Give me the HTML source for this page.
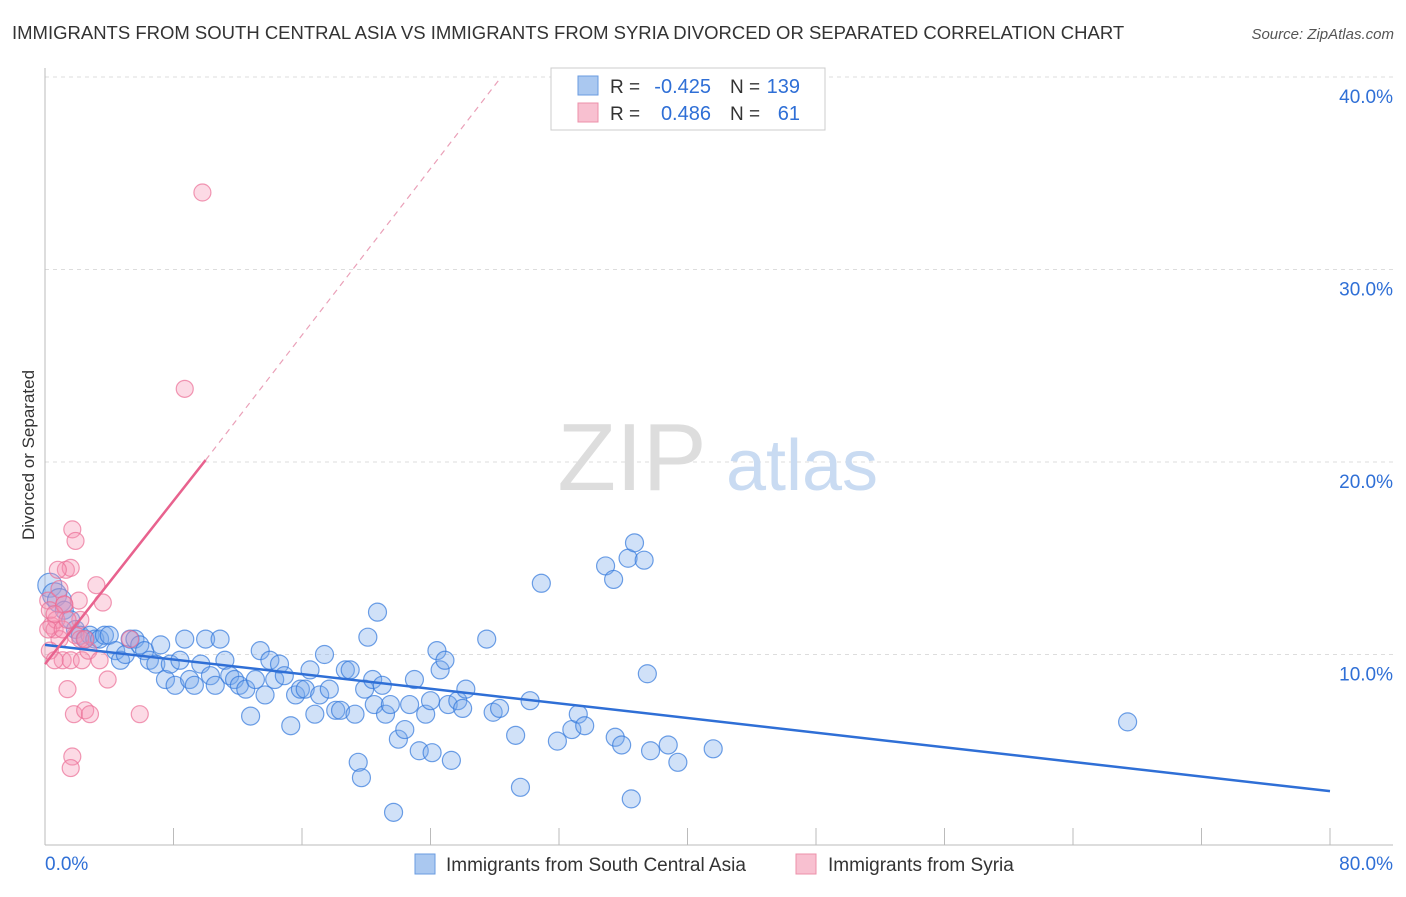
<!DOCTYPE html>
<html><head><meta charset="utf-8"><style>
body{margin:0;background:#fff;font-family:"Liberation Sans",sans-serif;}
svg text{font-family:"Liberation Sans",sans-serif;}
</style></head><body>
<svg id="chart" width="1406" height="892" viewBox="0 0 1406 892">
<text x="12" y="39" font-size="18.5" fill="#333">IMMIGRANTS FROM SOUTH CENTRAL ASIA VS IMMIGRANTS FROM SYRIA DIVORCED OR SEPARATED CORRELATION CHART</text>
<text x="1394" y="39" font-size="15" fill="#555" font-style="italic" text-anchor="end">Source: ZipAtlas.com</text>
<text x="34" y="455" font-size="17" fill="#333" text-anchor="middle" transform="rotate(-90 34 455)">Divorced or Separated</text>
<g id="grid"></g>
<g><text x="632" y="490" font-size="96" fill="#ddd" font-family="Liberation Serif" text-anchor="middle">ZIP</text><text x="802" y="490" font-size="72" fill="#c9dbf2" text-anchor="middle">atlas</text></g>
<g id="marks"></g>
<g id="legend">
<rect x="551" y="68" width="274" height="62" fill="#fff" stroke="#ccc"/>
<rect x="578" y="76" width="20" height="19" fill="#aac8f0" stroke="#6a9be0"/>
<rect x="578" y="103" width="20" height="19" fill="#f8c0d0" stroke="#ec90aa"/>
<text x="610" y="93" font-size="19" fill="#333">R =</text>
<text x="711" y="93" font-size="20" fill="#2f6fd6" text-anchor="end">-0.425</text>
<text x="730" y="93" font-size="19" fill="#333">N =</text>
<text x="800" y="93" font-size="20" fill="#2f6fd6" text-anchor="end">139</text>
<text x="610" y="120" font-size="19" fill="#333">R =</text>
<text x="711" y="120" font-size="20" fill="#2f6fd6" text-anchor="end">0.486</text>
<text x="730" y="120" font-size="19" fill="#333">N =</text>
<text x="800" y="120" font-size="20" fill="#2f6fd6" text-anchor="end">61</text>
</g>
<g>
<rect x="415" y="854" width="20" height="20" fill="#aac8f0" stroke="#6a9be0"/>
<text x="446" y="871" font-size="19" fill="#333">Immigrants from South Central Asia</text>
<rect x="796" y="854" width="20" height="20" fill="#f8c0d0" stroke="#ec90aa"/>
<text x="828" y="871" font-size="19" fill="#333">Immigrants from Syria</text>
</g>
</svg>
<script>
const blueX=[0.3,0.6,0.9,1.2,1.6,1.9,2.2,2.5,2.8,3.1,3.4,3.7,4.0,4.4,4.7,5.0,5.3,5.6,5.9,6.2,6.5,6.9,7.2,7.5,7.8,8.1,8.4,8.7,9.0,9.3,9.7,10.0,10.3,10.6,10.9,11.2,11.5,11.8,12.1,12.5,12.8,13.1,13.4,13.7,14.0,14.3,14.6,14.9,15.3,15.6,15.9,16.2,16.5,16.8,17.1,17.4,17.7,18.1,18.4,18.7,19.0,19.3,19.5,19.7,19.9,20.1,20.4,20.5,20.7,21.0,21.2,21.5,21.7,22.0,22.4,22.7,23.0,23.3,23.7,24.0,24.1,24.4,24.6,24.9,25.1,25.3,25.7,26.0,26.2,27.5,27.9,28.3,29.3,29.6,30.2,30.9,31.9,32.8,33.2,33.6,34.9,35.4,35.5,35.9,36.3,36.5,36.7,37.3,37.5,37.7,38.8,39.4,41.6,67.4];
const blueY=[13.6,13.1,12.8,12.3,11.8,11.3,11.0,10.8,11.0,10.8,10.8,11.0,11.0,10.2,9.7,10.0,10.8,10.8,10.5,10.2,9.7,9.5,10.5,8.7,9.5,8.4,9.7,10.8,8.7,8.4,9.5,10.8,8.9,8.4,10.8,9.7,8.9,8.7,8.4,8.2,6.8,8.7,10.2,7.9,9.7,8.7,9.5,8.9,6.3,7.9,8.2,8.2,9.2,6.9,7.9,10.0,8.2,7.1,7.1,9.2,9.2,6.9,4.4,3.6,8.2,10.9,8.7,7.4,12.2,8.4,6.9,7.4,1.8,5.6,6.1,7.4,8.7,5.0,6.9,7.6,4.9,10.2,9.2,9.7,7.4,4.5,7.6,7.2,8.2,10.8,7.0,7.2,5.8,3.1,7.6,13.7,5.5,6.1,6.9,6.3,14.6,13.9,5.7,5.3,15.0,2.5,15.8,14.9,9.0,5.0,5.3,4.4,5.1,6.5];
const pinkX=[0.2,0.3,0.4,0.6,0.7,0.9,1.1,1.2,1.3,1.4,1.6,1.7,1.8,1.9,2.1,2.2,2.3,2.5,2.7,2.8,3.2,3.4,3.6,3.9,5.3,5.9,1.7,1.6,0.2,0.3,0.6,0.9,1.2,1.9,2.2,2.5,8.7,9.8,0.6,1.1,1.4,1.6,0.8];
const pinkY=[12.8,12.3,11.5,11.3,11.8,10.8,9.7,12.6,14.4,8.2,9.7,16.5,6.9,15.9,12.8,11.8,9.7,7.1,10.2,6.9,13.6,9.7,12.7,8.7,10.8,6.9,4.7,4.1,11.3,10.2,9.7,13.4,12.6,11.0,10.8,10.8,23.8,34.0,12.1,11.3,11.8,14.5,14.4];
const blueTrend=[0,10.5,80,2.9];
const pinkTrend=[0,9.5,10,20.1,28.4,40];
const yTicks=[10,20,30,40];
const ns="http://www.w3.org/2000/svg";
const sx=v=>45+v*1285/80, sy=v=>847-v*19.25;
const svg=document.getElementById('chart');
function mk(tag,attrs,parent){const e=document.createElementNS(ns,tag);for(const k in attrs)e.setAttribute(k,attrs[k]);(parent||svg).appendChild(e);return e;}
const grid=document.getElementById('grid');
yTicks.forEach(t=>{
 const l=mk('line',{x1:45,x2:1393,y1:sy(t),y2:sy(t),stroke:'#ddd','stroke-dasharray':'4,4'},grid);
 
 
 const tx=mk('text',{x:1393,y:sy(t)+26,'font-size':19,fill:'#2f6fd6','text-anchor':'end'},grid);tx.textContent=t.toFixed(1)+'%';
 
 
});
const ax=mk('line',{x1:45,x2:45,y1:68,y2:845,stroke:'#bbb'},grid);


const bx=mk('line',{x1:45,x2:1393,y1:845,y2:845,stroke:'#bbb'},grid);


for(let i=0;i<=10;i++){const x=45+i*128.5;const t=mk('line',{x1:x,x2:x,y1:828,y2:845,stroke:'#bbb'},grid);
 
 }
[[0,'0.0%','start',45],[80,'80.0%','end',1393]].forEach(a=>{const t=mk('text',{x:a[3],y:870,'font-size':19,fill:'#2f6fd6','text-anchor':a[2]},grid);t.textContent=a[1];
 
 });
const marks=document.getElementById('marks');
blueX.forEach((x,i)=>{const c=mk('circle',{cx:sx(x),cy:sy(blueY[i]),r:i<3?12:9,fill:'rgba(120,170,235,0.35)',stroke:'rgba(50,120,220,0.7)','stroke-width':1.2},marks);
 
 });
pinkX.forEach((x,i)=>{const c=mk('circle',{cx:sx(x),cy:sy(pinkY[i]),r:8.5,fill:'rgba(245,150,180,0.35)',stroke:'rgba(235,110,150,0.7)','stroke-width':1.2},marks);
 
 });
const bt=mk('line',{x1:sx(blueTrend[0]),y1:sy(blueTrend[1]),x2:sx(blueTrend[2]),y2:sy(blueTrend[3]),stroke:'#2f6fd6','stroke-width':2.5},marks);


const pt=mk('line',{x1:sx(pinkTrend[0]),y1:sy(pinkTrend[1]),x2:sx(pinkTrend[2]),y2:sy(pinkTrend[3]),stroke:'#e8628e','stroke-width':2.5},marks);


const pd=mk('line',{x1:sx(pinkTrend[2]),y1:sy(pinkTrend[3]),x2:sx(pinkTrend[4]),y2:sy(pinkTrend[5]),stroke:'#eaa0b8','stroke-width':1.2,'stroke-dasharray':'6,5'},marks);


</script>
</body></html>
